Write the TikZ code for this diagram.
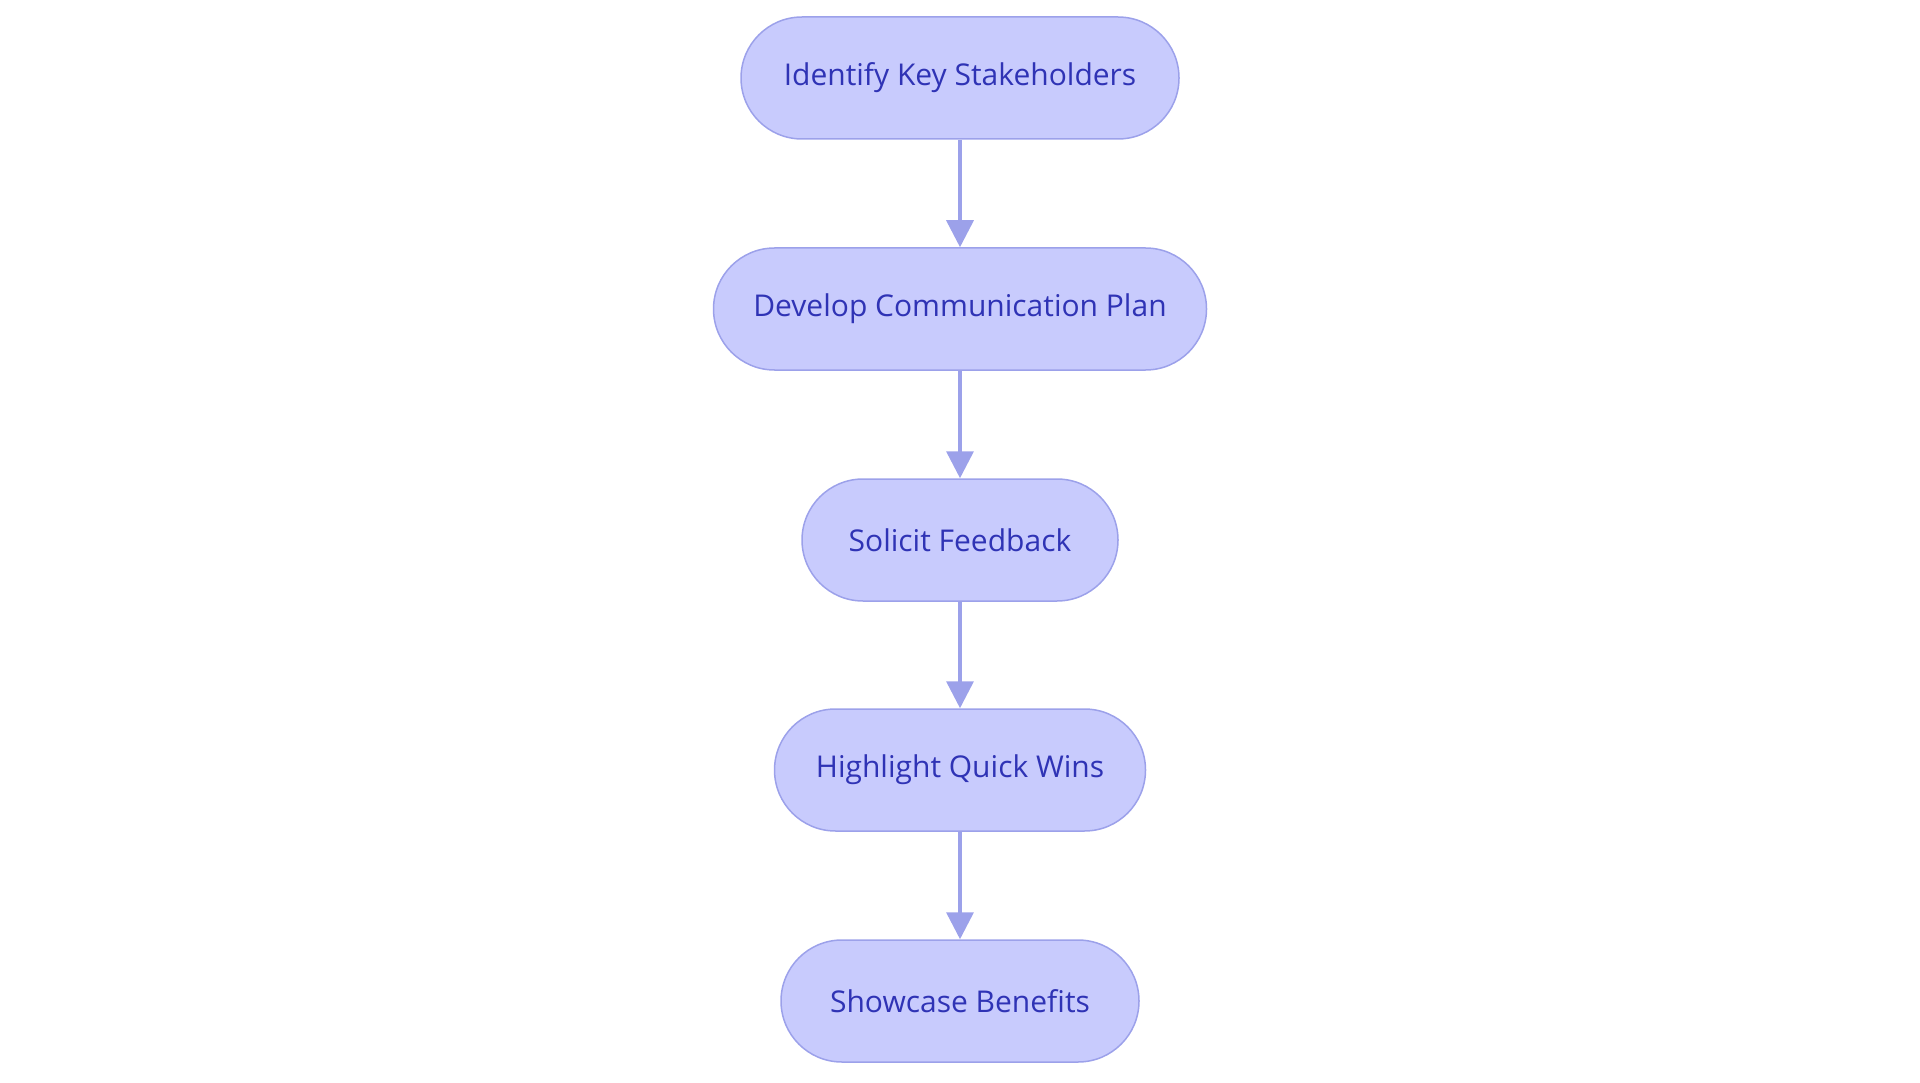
\documentclass[tikz,border=0pt]{standalone}
\usepackage{fontspec}
\setmainfont{Open Sans}[Ligatures={NoCommon}]
\usetikzlibrary{arrows.meta}
\definecolor{nodefill}{HTML}{C8CBFD}
\definecolor{nodeborder}{HTML}{9CA1EA}
\definecolor{nodetext}{HTML}{2F33B5}
\definecolor{edgecol}{HTML}{9CA1EA}
\tikzset{
  stepbox/.style={draw=nodeborder, fill=nodefill, line width=1.5pt,
    rounded corners=61pt, minimum height=122pt, inner sep=0pt,
    text=nodetext, font=\fontsize{30}{36}\selectfont},
  flow/.style={draw=edgecol, line width=3.5pt,
    -{Triangle[length=27pt,width=27pt]}}
}
\begin{document}
\begin{tikzpicture}[x=1pt,y=1pt]
\useasboundingbox (0,0) rectangle (1920,-1083);
\node[stepbox, minimum width=438pt] (n1) at (960,-78) {Identify Key Stakeholders};
\node[stepbox, minimum width=493pt] (n2) at (960,-309) {Develop Communication Plan};
\node[stepbox, minimum width=316pt] (n3) at (960,-540) {Solicit Feedback};
\node[stepbox, minimum width=371pt] (n4) at (960,-770) {Highlight Quick Wins};
\node[stepbox, minimum width=358pt] (n5) at (960,-1001) {Showcase Benefits};
\draw[flow] (n1) -- (n2);
\draw[flow] (n2) -- (n3);
\draw[flow] (n3) -- (n4);
\draw[flow] (n4) -- (n5);
\end{tikzpicture}
\end{document}
